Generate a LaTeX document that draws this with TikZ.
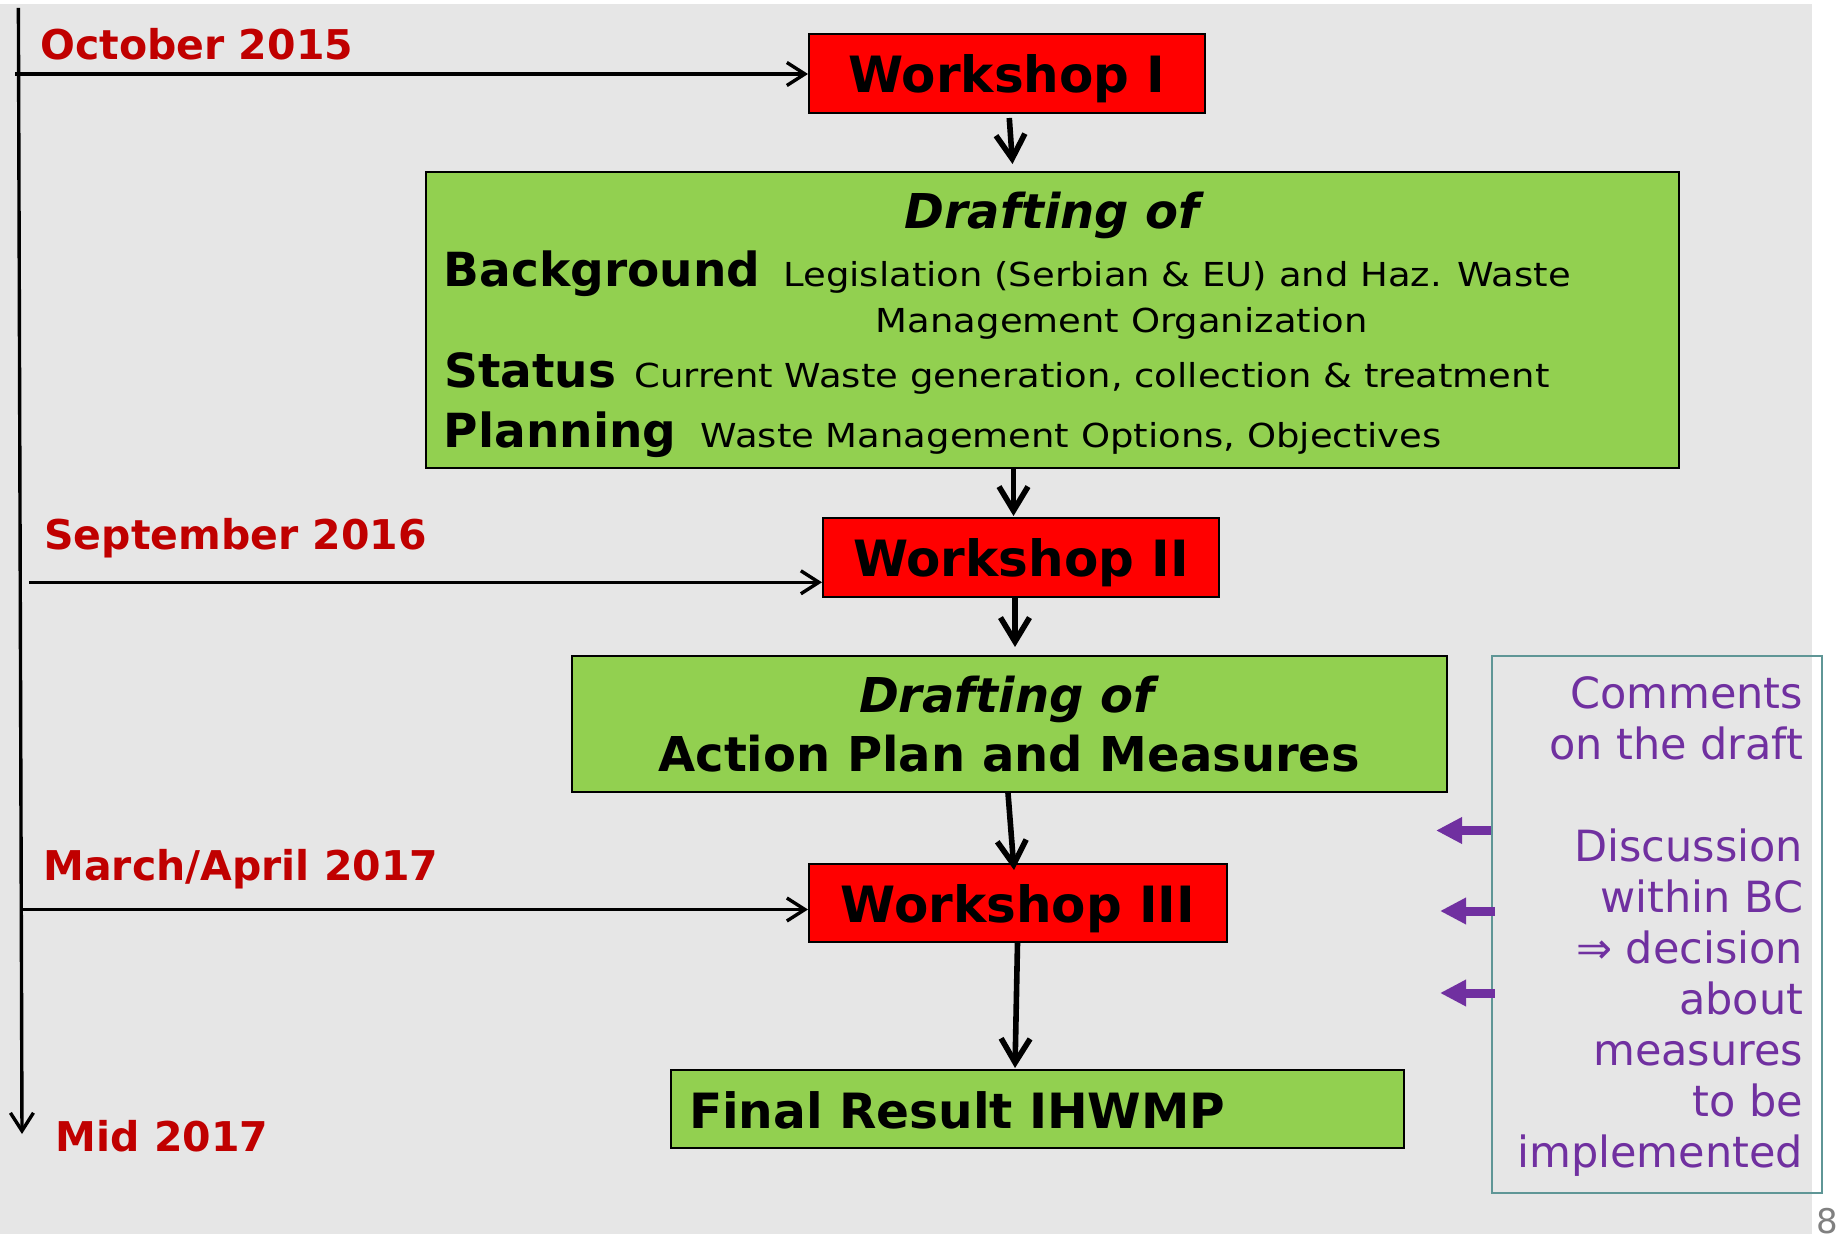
\documentclass[tikz,border=0pt]{standalone}
\usepackage{fontspec}
\setmainfont{DejaVu Sans}
\newfontfamily\widefont[FakeStretch=1.12]{DejaVu Sans}
\usetikzlibrary{arrows.meta}

\definecolor{bggray}{RGB}{230,230,230}
\definecolor{wsred}{RGB}{255,0,0}
\definecolor{boxgreen}{RGB}{146,208,80}
\definecolor{datered}{RGB}{192,0,0}
\definecolor{cmtpurple}{RGB}{112,48,160}
\definecolor{cmtteal}{RGB}{95,150,150}
\definecolor{pagegray}{RGB}{128,128,128}

\tikzset{
  wsbox/.style={draw=black, line width=1pt, fill=wsred, inner sep=0pt, text height=22pt, text depth=3pt, font=\fontsize{25}{30}\selectfont\bfseries},
  greenbox/.style={draw=black, line width=1pt, fill=boxgreen, inner sep=0pt},
  datelabel/.style={anchor=base west, inner sep=0pt, text=datered, font=\fontsize{20.5}{24}\selectfont\bfseries},
  headlabel/.style={anchor=base west, inner sep=0pt, font=\fontsize{23.5}{28}\selectfont\bfseries},
  bodytext/.style={anchor=base west, inner sep=0pt, font=\widefont\fontsize{16.5}{20}\selectfont},
  cmttext/.style={anchor=base east, align=right, inner sep=0pt, text=cmtpurple, font=\fontsize{21.5}{25.5}\selectfont},
  datearrow/.style={line width=1.7pt, -{Straight Barb[length=9pt,width=11.5pt]}},
  downarrow/.style={line width=2.8pt, -{Straight Barb[length=12pt,width=14.5pt]}},
  cmtarrow/.style={line width=4.5pt, cmtpurple, -{Triangle[length=13pt,width=12.5pt]}}
}

\begin{document}
\begin{tikzpicture}[x=0.5pt,y=-0.5pt]
\useasboundingbox (0,0) rectangle (1837,1234);
\fill[white] (0,0) rectangle (1837,1234);
\fill[bggray] (0,4) rectangle (1812,1234);

% workshops
\node[wsbox, minimum width=198pt, minimum height=39.5pt] (ws1) at (1007,73.5) {Workshop I};
\node[wsbox, minimum width=198pt, minimum height=39.5pt] (ws2) at (1021,557.5) {Workshop II};
\node[wsbox, minimum width=209pt, minimum height=39pt] (ws3) at (1018,903) {Workshop III};

% drafting boxes
\node[greenbox, minimum width=626.45pt, minimum height=148pt] (draft1) at (1052.15,320) {};
\node[anchor=base, inner sep=0pt, font=\fontsize{24}{29}\selectfont\bfseries\itshape] (d1title) at (1052,229) {Drafting of};
\node[headlabel] (bg) at (443.5,287) {Background};
\node[bodytext] (bgtxt) at (783,287) {Legislation (Serbian \& EU) and Haz. Waste};
\node[bodytext] (bgtxt2) at (875.5,333) {Management Organization};
\node[headlabel] (st) at (444,388) {Status};
\node[bodytext] (sttxt) at (634,388) {Current Waste generation, collection \& treatment};
\node[headlabel] (pl) at (443.5,448) {Planning};
\node[bodytext] (pltxt) at (700.5,448) {Waste Management Options, Objectives};

\node[greenbox, minimum width=437.75pt, minimum height=68pt, align=center, text height=52pt, text depth=4pt, font=\fontsize{24}{29.5}\selectfont\bfseries] (draft2) at (1009.25,724) {\textit{Drafting of}\\Action Plan and Measures};

\node[greenbox, minimum width=366.6pt, minimum height=39pt, text width=348.2pt, align=left, inner xsep=9.2pt, text height=22pt, text depth=3pt, font=\fontsize{24.3}{29}\selectfont\bfseries] (final) at (1037.2,1109) {Final Result IHWMP};

% dates
\node[datelabel] (oct) at (40,60) {October 2015};
\node[datelabel] (sep) at (44,549.3) {September 2016};
\node[datelabel] (mar) at (43,880) {March/April 2017};
\node[datelabel] (mid) at (55.3,1151.7) {Mid 2017};

% comments
\node[draw=cmtteal, line width=1pt, minimum width=165.15pt, minimum height=268.5pt] (cmt) at (1656.85,924.5) {};
\node[cmttext] (cmtxt) at (1803.5,1167.6) {Comments\\on the draft\\[25.5pt]Discussion\\within BC\\⇒ decision\\about\\measures\\to be\\implemented};

\node[anchor=base west, inner sep=0pt, text=pagegray, font=\fontsize{17}{20}\selectfont] (pagenum) at (1816,1233) {8};

% time line
\coordinate (tltop) at (18.4,8);
\coordinate (tlend) at (22,1134);
\draw[datearrow] (tltop) -- (tlend);
\coordinate (octstart) at (15,74);
\coordinate (sepstart) at (29.3,582.3);
\coordinate (marstart) at (22,909.5);
\draw[datearrow] (octstart) -- (octstart -| ws1.west);
\draw[datearrow] (sepstart) -- (sepstart -| ws2.west);
\draw[datearrow] (marstart) -- (marstart -| ws3.west);

% flow
\draw[downarrow, shorten <=2pt, shorten >=3.5pt] ([xshift=1pt]ws1.south) -- ([xshift=3pt]ws1.south |- draft1.north);
\draw[downarrow, shorten >=0.5pt] ([xshift=-3.75pt]ws2.north |- draft1.south) -- ([xshift=-3.75pt]ws2.north);
\draw[downarrow, shorten >=4pt] ([xshift=-3pt]ws2.south) -- ([xshift=-3pt]ws2.south |- draft2.north);
\draw[downarrow] ([xshift=-5pt]ws3.north |- draft2.south) -- ([xshift=-2pt,yshift=-3.5pt]ws3.north);
\draw[downarrow, shorten >=0.5pt] ([xshift=-0.25pt]ws3.south) -- ([xshift=-1.5pt]ws3.south |- final.north);

% feedback
\coordinate (p1) at (1436,830.5);
\coordinate (p2) at (1440,911);
\coordinate (p3) at (1440,993);
\draw[cmtarrow] (cmt.west |- p1) -- (p1);
\draw[cmtarrow] ([xshift=2pt]cmt.west |- p2) -- (p2);
\draw[cmtarrow] ([xshift=2pt]cmt.west |- p3) -- (p3);
\end{tikzpicture}
\end{document}
